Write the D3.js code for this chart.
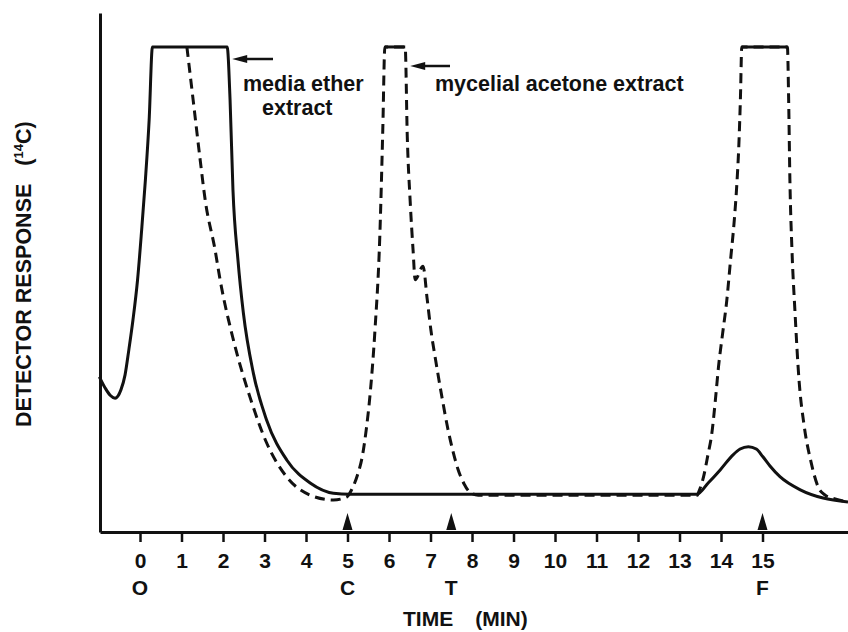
<!DOCTYPE html>
<html>
<head>
<meta charset="utf-8">
<script src="https://cdn.jsdelivr.net/npm/d3@7"></script>
<style>
  body { margin: 0; background: #fff; }
  svg { display: block; font-family: 'Liberation Sans', Arial, sans-serif; font-weight: bold; }
</style>
</head>
<body>
<svg width="848" height="632"></svg>
<script>
// time (min), detector response (% of full scale, 100 = off scale)
const mediaEther = [
  [-0.98, 32.0], [-0.84, 29.7], [-0.72, 28.2], [-0.60, 27.6], [-0.46, 29.3],
  [-0.36, 32.4], [-0.27, 37.5], [-0.17, 43.7], [-0.06, 51.9], [0.04, 62.3],
  [0.13, 72.6], [0.22, 84.9], [0.30, 100], [2.10, 100], [2.17, 89.1],
  [2.24, 70.5], [2.36, 56.1], [2.49, 45.2], [2.73, 32.8], [3.05, 23.1],
  [3.54, 14.8], [4.10, 10.1], [4.66, 8.0], [5.06, 7.8], [13.42, 7.8],
  [13.69, 10.1], [13.98, 12.8], [14.29, 15.9], [14.46, 17.1], [14.66, 17.6],
  [14.85, 17.1], [15.01, 15.5], [15.18, 13.6], [15.42, 11.4], [15.91, 8.7],
  [16.46, 7.0], [17.06, 6.2]
]

const myceliumAcetone = [
  [1.13, 100], [1.28, 89.1], [1.45, 76.7], [1.57, 68.5], [1.81, 58.1],
  [1.93, 52.0], [2.25, 39.6], [2.65, 27.8], [3.05, 18.4], [3.54, 11.3],
  [4.10, 7.6], [4.66, 6.6], [4.98, 7.2], [5.11, 8.9], [5.25, 12.0],
  [5.35, 15.3], [5.45, 21.0], [5.54, 28.0], [5.66, 41.4], [5.78, 61.4],
  [5.85, 82.9], [5.90, 100], [6.39, 100], [6.44, 81.6], [6.51, 68.2],
  [6.58, 58.1], [6.63, 52.0], [6.82, 54.8], [6.92, 48.0], [7.01, 41.6],
  [7.13, 35.1], [7.28, 27.6], [7.42, 21.2], [7.54, 16.7], [7.66, 13.0],
  [7.81, 9.9], [7.95, 8.2], [8.15, 7.6], [13.43, 7.6], [13.45, 8.0],
  [13.58, 11.4], [13.68, 15.7], [13.78, 20.4], [13.86, 26.8], [13.94, 34.1],
  [14.04, 41.0], [14.14, 47.8], [14.23, 56.1], [14.32, 64.3], [14.38, 71.5],
  [14.43, 79.8], [14.47, 90.1], [14.50, 100], [15.60, 100], [15.63, 89.1],
  [15.66, 72.6], [15.71, 58.1], [15.78, 45.8], [15.88, 31.3], [16.00, 22.1],
  [16.17, 14.4], [16.34, 9.3], [16.51, 7.6], [16.75, 6.8], [17.06, 6.2]
]

const timeTicks = [0, 1, 2, 3, 4, 5, 6, 7, 8, 9, 10, 11, 12, 13, 14, 15]
const standardTimes = [0, 5, 7.5, 15]
const standardNames = ['O', 'C', 'T', 'F']
const markedTimes = [5, 7.5, 15]

const svg = d3.select('svg')
const x = d3.scaleLinear().domain([-0.964, 17.06]).range([100, 848])
const y = d3.scaleLinear().domain([0, 107]).range([532, 13])

const line = d3.line()
  .x(d => x(d[0]))
  .y(d => y(d[1]))
  .curve(d3.curveMonotoneX)

// axes
const xAxis = svg.append('g')
  .attr('transform', `translate(0,${y(0)})`)
  .call(d3.axisBottom(x).tickValues(timeTicks).tickSize(10).tickSizeOuter(0).tickPadding(11))
xAxis.select('.domain').attr('stroke-width', 3).attr('stroke', '#111')
xAxis.selectAll('.tick line').attr('stroke-width', 2.5).attr('stroke', '#111')
xAxis.selectAll('.tick text')
  .attr('font-size', 21)
  .attr('font-family', 'Liberation Sans, Arial, sans-serif')
  .attr('font-weight', 'bold')
  .attr('fill', '#111')

const yAxis = svg.append('g')
  .attr('transform', `translate(${x.range()[0]},0)`)
  .call(d3.axisLeft(y).tickValues([]).tickSizeOuter(0))
yAxis.select('.domain').attr('stroke-width', 3).attr('stroke', '#111')

// curves
svg.append('path')
  .datum(mediaEther)
  .attr('d', line)
  .attr('fill', 'none')
  .attr('stroke', '#111')
  .attr('stroke-width', 3)

svg.append('path')
  .datum(myceliumAcetone)
  .attr('d', line)
  .attr('fill', 'none')
  .attr('stroke', '#111')
  .attr('stroke-width', 3)
  .attr('stroke-dasharray', '10,6')

// off-scale tops of the dashed trace are drawn as a solid bar
const flatTops = d3.pairs(myceliumAcetone).filter(([a, b]) => a[1] === 100 && b[1] === 100)
svg.selectAll('line.top')
  .data(flatTops)
  .join('line')
  .attr('class', 'top')
  .attr('x1', d => x(d[0][0]))
  .attr('x2', d => x(d[1][0]))
  .attr('y1', d => y(d[0][1]))
  .attr('y2', d => y(d[1][1]))
  .attr('stroke', '#111')
  .attr('stroke-width', 3)

// retention markers
svg.selectAll('path.marker')
  .data(markedTimes)
  .join('path')
  .attr('class', 'marker')
  .attr('d', t => `M${x(t)},${y(0) - 19}L${x(t) + 5},${y(0) - 2}L${x(t) - 5},${y(0) - 2}Z`)
  .attr('fill', '#111')

svg.selectAll('text.std')
  .data(standardTimes)
  .join('text')
  .attr('class', 'std')
  .attr('x', t => x(t))
  .attr('y', 595)
  .attr('text-anchor', 'middle')
  .attr('font-size', 21)
  .attr('fill', '#111')
  .text((t, i) => standardNames[i])

// titles
const xTitle = svg.append('text')
  .attr('x', 403)
  .attr('y', 626)
  .attr('font-size', 21)
  .attr('fill', '#111')
xTitle.append('tspan').text('TIME')
xTitle.append('tspan').attr('dx', 22).text('(MIN)')

const yTitle = svg.append('text')
  .attr('transform', 'translate(31,427) rotate(-90)')
  .attr('font-size', 21.5)
  .attr('fill', '#111')
yTitle.append('tspan').text('DETECTOR RESPONSE')
yTitle.append('tspan').attr('dx', 18).text('(')
yTitle.append('tspan').attr('font-size', 13).attr('dy', -8).text('14')
yTitle.append('tspan').attr('dy', 8).text('C)')

// annotations
const notes = [
  { lines: ['media ether', 'extract'], xs: [243, 262], ys: [91, 115], tip: [2.1, 59], tail: 273 },
  { lines: ['mycelial acetone extract'], xs: [435], ys: [91], tip: [6.39, 66], tail: 450 }
]
notes.forEach(n => {
  n.lines.forEach((s, i) => {
    svg.append('text')
      .attr('x', n.xs[i])
      .attr('y', n.ys[i])
      .attr('font-size', 21.5)
      .attr('fill', '#111')
      .text(s)
  })
  const tx = x(n.tip[0]) + 5
  const ty = n.tip[1]
  svg.append('line')
    .attr('x1', tx + 12).attr('x2', n.tail)
    .attr('y1', ty).attr('y2', ty)
    .attr('stroke', '#111').attr('stroke-width', 2.5)
  svg.append('path')
    .attr('d', `M${tx},${ty}L${tx + 15},${ty - 4}L${tx + 15},${ty + 4}Z`)
    .attr('fill', '#111')
})
</script>
</body>
</html>
